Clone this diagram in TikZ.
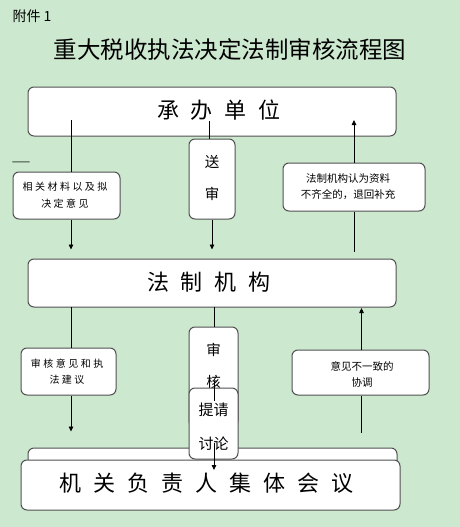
\documentclass[tikz,border=0pt]{standalone}
\usepackage{fontspec}
\setmainfont{Noto Sans CJK SC}
\newfontfamily\cjkwide[LetterSpace=25]{Noto Sans CJK SC}
\usetikzlibrary{arrows.meta}
\definecolor{pagegreen}{RGB}{204,232,207}
\definecolor{boxline}{RGB}{80,80,80}
\newcommand\kgap{\hspace{12pt}}

\begin{document}
\begin{tikzpicture}[x=1pt, y=-1pt, >={Triangle[length=5pt,width=4.5pt]},
    box/.style={draw=boxline, line width=1pt, fill=white, rounded corners=6pt, inner sep=0pt},
    big/.style={font=\fontsize{22}{22}\selectfont},
    vert/.style={font=\fontsize{14.5}{32}\selectfont, align=center},
    small/.style={font=\fontsize{10.5}{16}\selectfont, align=center},
    smallwide/.style={font=\cjkwide\fontsize{10}{16.5}\selectfont, align=center},
    link/.style={line width=0.8pt}]
    % ---------------- page and title
    \fill[pagegreen] (0,0) rectangle (460,527);
    \useasboundingbox (0,0) rectangle (460,527);
    \node[font=\fontsize{14}{14}\selectfont, anchor=west] (annex) at (9,16) {附件 1};
    \node[font=\fontsize{23.5}{24}\selectfont] (title) at (230,50) {重大税收执法决定法制审核流程图};
    \node[font=\fontsize{11}{11}\selectfont] (dash) at (21,164) {——};
    % ---------------- first level
    \node[box, minimum width=368pt, minimum height=49pt] (unit) at (212,111.5) {};
    \node[big] (unittext) at (219,110) {承\kgap 办\kgap 单\kgap 位};
    \node[box, minimum width=107pt, minimum height=47pt] (submat) at (66.5,195.5) {};
    \node[smallwide] (submattext) at (65,195) {相关材料以及拟\\决定意见};
    \node[box, minimum width=46pt, minimum height=80pt] (send) at (212,179) {};
    \node[vert] (sendtext) at (212,178) {送\\审};
    \node[box, minimum width=142pt, minimum height=48pt] (back) at (354,187) {};
    \node[small] (backtext) at (348,187) {法制机构认为资料\\不齐全的，退回补充};
    \node[box, minimum width=368pt, minimum height=48pt] (law) at (212,283) {};
    \node[big] (lawtext) at (209,282) {法\kgap 制\kgap 机\kgap 构};
    \coordinate (u1) at (71,120);
    \coordinate (u2) at (209,121);
    \coordinate (u3) at (354,120);
    \draw[link] (u1) -- (u1 |- submat.north);
    \draw[link, ->, shorten >=9pt] (u1 |- submat.south) -- (u1 |- law.north);
    \draw[link] (u2) -- (u2 |- send.north);
    \draw[link, ->, shorten >=9pt] (send.south) -- (send.south |- law.north);
    \draw[link, ->] (u3 |- back.north) -- (u3);
    \draw[link, shorten >=7pt] (u3 |- back.south) -- (u3 |- law.north);
    % ---------------- second level
    \node[box, minimum width=95pt, minimum height=47pt] (advice) at (68.5,371.5) {};
    \node[smallwide] (advicetext) at (67,371.5) {审核意见和执\\法建议};
    \node[box, minimum width=137pt, minimum height=45pt] (coord) at (360.5,372.5) {};
    \node[small] (coordtext) at (362,374) {意见不一致的\\协调};
    \node[box, minimum width=369pt, minimum height=30pt] (meetback) at (212.5,463) {};
    \node[box, minimum width=49pt, minimum height=100pt] (review) at (213.5,377) {};
    \node[vert] (reviewtext) at (213.5,366) {审\\核};
    \node[box, minimum width=49pt, minimum height=71pt] (propose) at (213.5,423.5) {};
    \node[font=\fontsize{15}{34}\selectfont, align=center] (proposetext) at (213.5,427) {提请\\讨论};
    \node[box, minimum width=379pt, minimum height=50pt] (meeting) at (210.5,485) {};
    \node[big] (meetingtext) at (206.5,483) {机\kgap 关\kgap 负\kgap 责\kgap 人\kgap 集\kgap 体\kgap 会\kgap 议};
    \coordinate (l1) at (71,307);
    \coordinate (m1) at (214,307);
    \coordinate (m2) at (214,381);
    \coordinate (m3) at (214,401);
    \coordinate (m4) at (214,443);
    \coordinate (m5) at (214,470);
    \coordinate (r1) at (361.5,308);
    \coordinate (r2) at (361.5,433);
    \draw[link] (l1) -- (l1 |- advice.north);
    \draw[link, ->, shorten >=16pt] (l1 |- advice.south) -- (l1 |- meetback.north);
    \draw[link] (m1) -- (m1 |- review.north);
    \draw[link] (m2) -- (m3);
    \draw[link, ->] (m4) -- (m5);
    \draw[link, ->] (r1 |- coord.north) -- (r1);
    \draw[link] (r1 |- coord.south) -- (r2);
\end{tikzpicture}
\end{document}
